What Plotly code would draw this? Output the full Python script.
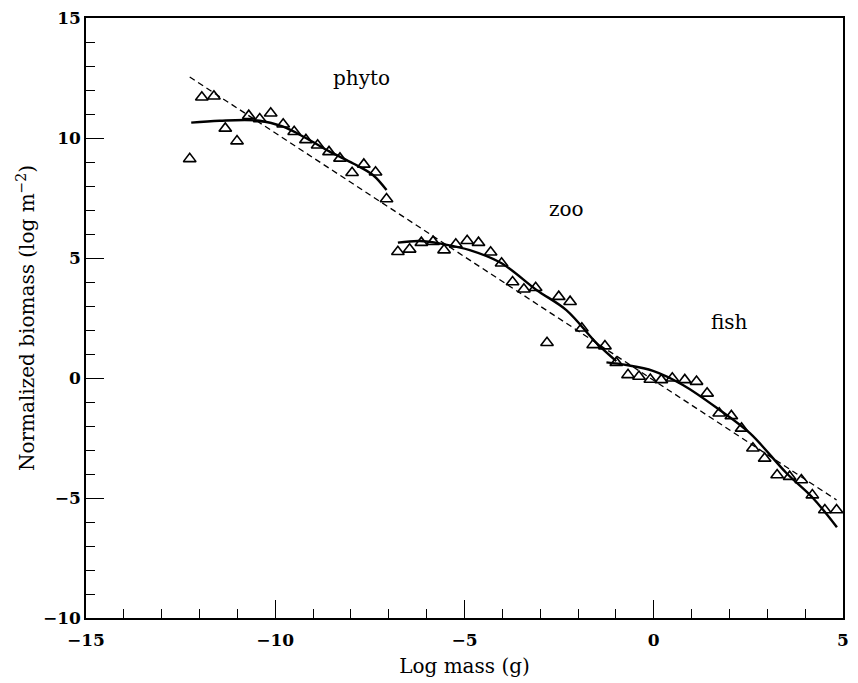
import plotly.graph_objects as go

# Observed size-spectrum points (log mass, normalized biomass)
phyto_x = [-12.26, -11.94, -11.62, -11.32, -11.01, -10.70, -10.41, -10.12, -9.79, -9.50, -9.19, -8.88, -8.58, -8.29, -7.97, -7.66, -7.35, -7.06]
phyto_y = [9.13, 11.70, 11.74, 10.40, 9.87, 10.93, 10.79, 11.03, 10.57, 10.26, 9.92, 9.70, 9.42, 9.15, 8.55, 8.90, 8.57, 7.46]

zoo_x = [-6.76, -6.45, -6.14, -5.83, -5.54, -5.23, -4.93, -4.63, -4.31, -4.02, -3.73, -3.43, -3.12, -2.82, -2.51, -2.21, -1.90, -1.60, -1.29, -0.99, -0.68]
zoo_y = [5.26, 5.36, 5.64, 5.68, 5.33, 5.57, 5.72, 5.64, 5.24, 4.78, 4.00, 3.70, 3.76, 1.47, 3.39, 3.18, 2.07, 1.38, 1.33, 0.64, 0.13]

fish_x = [-0.39, -0.09, 0.20, 0.49, 0.82, 1.13, 1.41, 1.73, 2.05, 2.32, 2.62, 2.93, 3.26, 3.59, 3.90, 4.19, 4.52, 4.83]
fish_y = [0.06, -0.06, -0.08, -0.01, -0.08, -0.15, -0.64, -1.47, -1.58, -2.10, -2.93, -3.35, -4.04, -4.11, -4.25, -4.88, -5.50, -5.50]

# Fitted curves (solid) for each group
phyto_fit_x = [-12.22, -11.47, -10.41, -9.79, -9.18, -8.56, -7.94, -7.42, -7.06]
phyto_fit_y = [10.64, 10.72, 10.72, 10.47, 9.99, 9.43, 8.94, 8.46, 7.83]
zoo_fit_x = [-6.76, -6.18, -5.57, -4.86, -4.02, -3.10, -2.31, -1.51, -0.99]
zoo_fit_y = [5.64, 5.71, 5.58, 5.33, 4.78, 3.67, 2.83, 1.45, 0.70]
fish_fit_x = [-1.25, -0.72, -0.02, 0.77, 1.74, 2.54, 3.51, 4.21, 4.84]
fish_fit_y = [0.65, 0.54, 0.30, -0.29, -1.33, -2.30, -3.97, -5.01, -6.22]

# Overall linear fit (dashed)
lin_x = [-12.26, 4.83]
lin_y = [12.54, -5.08]

labels = ["phyto", "zoo", "fish"]
label_x = [-7.71, -2.30, 2.01]
label_y = [12.5, 7.04, 2.33]

FONT = "DejaVu Serif"

fig = go.Figure()

fig.add_trace(go.Scatter(x=lin_x, y=lin_y, mode="lines",
                         line=dict(color="black", width=1.3, dash="6px,4px"),
                         showlegend=False, hoverinfo="skip"))
for fx, fy in [(phyto_fit_x, phyto_fit_y), (zoo_fit_x, zoo_fit_y), (fish_fit_x, fish_fit_y)]:
    fig.add_trace(go.Scatter(x=fx, y=fy, mode="lines", line=dict(color="black", width=2.4, shape="spline"),
                             showlegend=False, hoverinfo="skip"))
for px_, py_ in [(phyto_x, phyto_y), (zoo_x, zoo_y), (fish_x, fish_y)]:
    fig.add_trace(go.Scatter(x=px_, y=py_, mode="markers",
                             marker=dict(symbol="triangle-up-open", size=11, color="black",
                                         line=dict(color="black", width=1.6)),
                             showlegend=False))

for t, ax_, ay_ in zip(labels, label_x, label_y):
    fig.add_annotation(x=ax_, y=ay_, text=t, showarrow=False,
                       font=dict(family=FONT, size=20, color="black"))

axis_common = dict(
    showgrid=False, zeroline=False, showline=True, linecolor="black", linewidth=1.5,
    mirror=True, ticks="inside", ticklen=18, tickwidth=1.2, tickcolor="black",
    minor=dict(ticks="inside", ticklen=9, tickwidth=1, tickcolor="black", dtick=1, showgrid=False),
    tickfont=dict(family=FONT, size=17, color="black", weight="bold"),
    automargin=False,
)

fig.update_xaxes(range=[-15, 5], dtick=5, tick0=0, ticklabelstandoff=6,
                 title=dict(text="Log mass (g)", font=dict(family=FONT, size=20, color="black"), standoff=10),
                 **axis_common)
fig.update_yaxes(range=[-10, 15], dtick=5, tick0=0,
                 title=dict(text="Normalized biomass (log m<sup>−2</sup>)",
                            font=dict(family=FONT, size=20, color="black"), standoff=3),
                 **axis_common)

fig.update_layout(
    width=858, height=683,
    margin=dict(l=86, r=15, t=18, b=65),
    plot_bgcolor="white", paper_bgcolor="white",
)

fig.write_html("out.html")
